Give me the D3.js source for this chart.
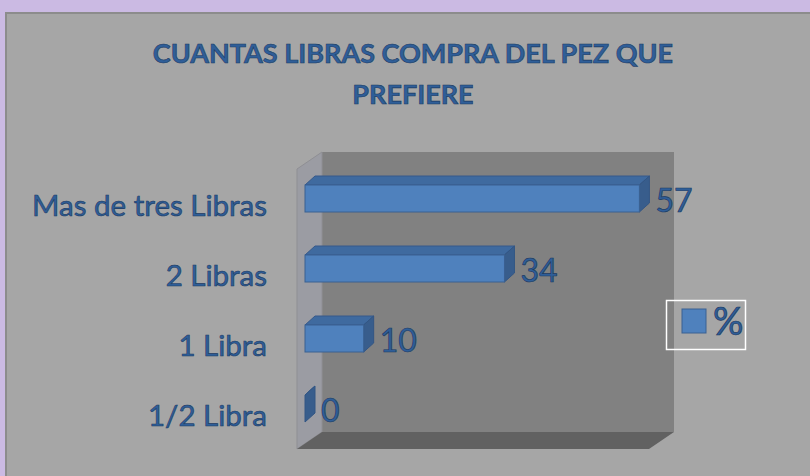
<!DOCTYPE html>
<html>
<head>
<meta charset="utf-8">
<script src="https://cdn.jsdelivr.net/npm/d3@7"></script>
<style>
  body { margin: 0; background: #cbbae3; }
  svg { display: block; }
  text { font-family: Lato, "Open Sans", sans-serif; }
</style>
</head>
<body>
<div id="chart"></div>
<script>
// chart data
var categories = ['Mas de tres Libras', '2 Libras', '1 Libra', '1/2 Libra'];
var values = [57, 34, 10, 0];
var seriesName = '%';
var titleLines = ['CUANTAS LIBRAS COMPRA DEL PEZ QUE', 'PREFIERE'];
var xMax = 60;

var W = 810, H = 476;
var depth = { dx: 25, dy: 17 };   // 3d wall depth
var barDepth = { dx: 10, dy: 9 };
var textFill = '#2f5e98', textStroke = '#1c3a63';

var svg = d3.select('#chart').append('svg').attr('width', W).attr('height', H);

// chart area
svg.append('rect').attr('x', 6).attr('y', 13).attr('width', W).attr('height', H)
    .attr('fill', '#a6a6a6').attr('stroke', '#8c8c8c').attr('stroke-width', 2);

// title
svg.append('text').attr('x', 413).attr('y', 63).attr('text-anchor', 'middle')
    .attr('font-size', 27).attr('font-weight', 'bold')
    .attr('fill', textFill).attr('stroke', textStroke).attr('stroke-width', 0.6)
    .selectAll('tspan').data(titleLines).enter().append('tspan')
    .attr('x', 413).attr('dy', function(d, i) { return i === 0 ? 0 : 41; })
    .text(function(d) { return d; });

// front plane of plot
var x = d3.scaleLinear().domain([0, xMax]).range([297, 649]);
var y = d3.scaleBand().domain(categories).range([169, 449]);
var x0 = x.range()[0], x1 = x.range()[1], y0 = y.range()[0], y1 = y.range()[1];

// back wall
svg.append('rect').attr('x', x0 + depth.dx).attr('y', y0 - depth.dy)
    .attr('width', x1 - x0).attr('height', y1 - y0)
    .attr('fill', '#818181');
// left wall
svg.append('path')
    .attr('d', 'M' + x0 + ',' + y0 + 'L' + (x0 + depth.dx) + ',' + (y0 - depth.dy) +
        'L' + (x0 + depth.dx) + ',' + (y1 - depth.dy) + 'L' + x0 + ',' + y1 + 'Z')
    .attr('fill', '#9b9ca3').attr('stroke', '#8f8f94').attr('stroke-width', 1);
// floor
svg.append('path')
    .attr('d', 'M' + x0 + ',' + y1 + 'L' + (x0 + depth.dx) + ',' + (y1 - depth.dy) +
        'L' + (x1 + depth.dx) + ',' + (y1 - depth.dy) + 'L' + x1 + ',' + y1 + 'Z')
    .attr('fill', '#616161');

// category axis
var axis = svg.append('g').attr('transform', 'translate(' + (x0 - 30) + ',3)')
    .call(d3.axisLeft(y).tickSize(0).tickPadding(0));
axis.select('.domain').remove();
axis.selectAll('text').attr('font-size', 29.5).attr('font-family', 'Lato, sans-serif')
    .attr('fill', textFill).attr('stroke', textStroke).attr('stroke-width', 0.6);

// bars, set at a third of the wall depth
var offX = 8, offY = -5.5, barH = 27;
var rows = categories.map(function(c, i) { return { cat: c, value: values[i] }; });
var bars = svg.append('g').selectAll('g').data(rows).enter().append('g')
    .attr('transform', function(d) {
        return 'translate(0,' + (y(d.cat) + y.bandwidth() / 2 + offY - barH / 2) + ')';
    });
// top face
bars.append('path').attr('d', function(d) {
    var a = x0 + offX, b = x(d.value) + offX;
    return 'M' + a + ',0L' + (a + barDepth.dx) + ',' + (-barDepth.dy) +
        'L' + (b + barDepth.dx) + ',' + (-barDepth.dy) + 'L' + b + ',0Z';
}).attr('fill', '#3f6a9f').attr('stroke', '#36598a').attr('stroke-width', 1);
// side face
bars.append('path').attr('d', function(d) {
    var b = x(d.value) + offX;
    return 'M' + b + ',0L' + (b + barDepth.dx) + ',' + (-barDepth.dy) +
        'L' + (b + barDepth.dx) + ',' + (barH - barDepth.dy) + 'L' + b + ',' + barH + 'Z';
}).attr('fill', '#385d8c').attr('stroke', '#335684').attr('stroke-width', 1);
// front face
bars.append('rect').attr('x', x0 + offX)
    .attr('width', function(d) { return x(d.value) - x0; })
    .attr('height', barH)
    .attr('fill', '#4f81bd').attr('stroke', '#3a6192').attr('stroke-width', 1)
    .attr('display', function(d) { return d.value > 0 ? null : 'none'; });
// value labels
bars.append('text')
    .attr('x', function(d) { return x(d.value) + offX + barDepth.dx + 6; })
    .attr('y', barH / 2 + 1).attr('dominant-baseline', 'central')
    .attr('font-size', 32)
    .attr('fill', textFill).attr('stroke', textStroke).attr('stroke-width', 0.7)
    .text(function(d) { return d.value; });

// legend
var lg = svg.append('g');
lg.append('rect').attr('x', 666.5).attr('y', 300.5).attr('width', 79).attr('height', 49)
    .attr('fill', 'none').attr('stroke', '#ffffff').attr('stroke-width', 1.5);
lg.append('rect').attr('x', 682).attr('y', 309).attr('width', 24).attr('height', 24)
    .attr('fill', '#4f81bd').attr('stroke', '#3a6192').attr('stroke-width', 1);
lg.append('text').attr('x', 713).attr('y', 320).attr('dominant-baseline', 'central')
    .attr('font-size', 38)
    .attr('fill', textFill).attr('stroke', textStroke).attr('stroke-width', 0.7)
    .text(seriesName);
</script>
</body>
</html>
